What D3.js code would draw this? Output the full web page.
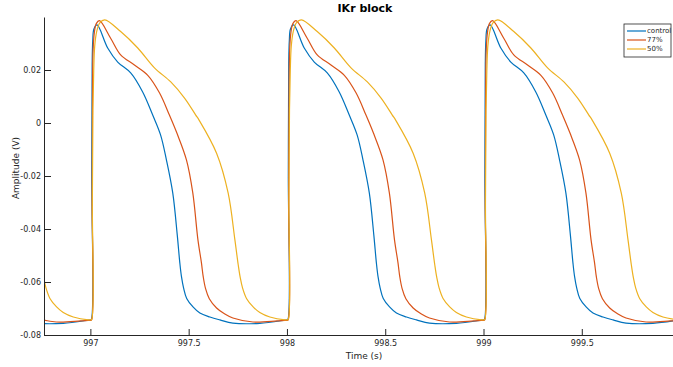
<!DOCTYPE html>
<html>
<head>
<meta charset="utf-8">
<script src="https://cdn.jsdelivr.net/npm/d3@7"></script>
<style>
  body { margin: 0; background: #fff; }
  svg { display: block; font-family: "DejaVu Sans", sans-serif; }
</style>
</head>
<body>
<div id="chart"></div>
<script>
// beat onsets (s) - same waveform repeats every second
var beats = [996, 997, 998, 999];

// control: phase after onset (s) and membrane voltage (V)
var ctrlT = [0.000, 0.005, 0.007, 0.009, 0.012, 0.018, 0.034, 0.088, 0.139, 0.205, 0.266, 0.317, 0.357, 0.387, 0.419, 0.442, 0.455, 0.463, 0.474, 0.490, 0.522, 0.557, 0.608, 0.659, 0.725, 0.862, 0.990];
var ctrlV = [-0.0743, -0.0741, -0.020, 0.022, 0.031, 0.0355, 0.0370, 0.0283, 0.0230, 0.0189, 0.0117, 0.0030, -0.0045, -0.0140, -0.0264, -0.0423, -0.0528, -0.0578, -0.0622, -0.0662, -0.0694, -0.0717, -0.0732, -0.0743, -0.0755, -0.0756, -0.0744];

// 77% IKr
var ikr77T = [0.000, 0.006, 0.009, 0.011, 0.014, 0.020, 0.030, 0.046, 0.103, 0.154, 0.224, 0.292, 0.352, 0.402, 0.440, 0.489, 0.521, 0.547, 0.565, 0.574, 0.586, 0.605, 0.642, 0.684, 0.725, 0.827, 0.949, 0.990];
var ikr77V = [-0.0745, -0.0743, -0.030, 0.015, 0.028, 0.034, 0.0375, 0.0386, 0.0320, 0.0257, 0.0219, 0.0180, 0.0113, 0.0030, -0.0038, -0.0140, -0.0264, -0.0440, -0.0528, -0.0580, -0.0625, -0.0663, -0.0698, -0.0721, -0.0736, -0.0751, -0.0747, -0.0745];

// 50% IKr
var ikr50T = [0.000, 0.006, 0.010, 0.013, 0.017, 0.022, 0.032, 0.048, 0.073, 0.154, 0.241, 0.326, 0.409, 0.479, 0.536, 0.553, 0.642, 0.701, 0.735, 0.752, 0.762, 0.774, 0.795, 0.828, 0.862, 0.913, 0.990];
var ikr50V = [-0.0743, -0.0742, -0.030, 0.005, 0.020, 0.029, 0.0345, 0.0378, 0.0389, 0.0345, 0.0283, 0.0208, 0.0155, 0.0094, 0.0030, 0.0011, -0.0114, -0.0265, -0.0440, -0.0535, -0.0582, -0.0622, -0.0663, -0.0694, -0.0715, -0.0732, -0.0743];

var seriesNames = ['control', '77%', '50%'];
var colors = ['#0072BD', '#D95319', '#EDB120'];

var xTicks = [997, 997.5, 998, 998.5, 999, 999.5];
var xTickLabels = ['997', '997.5', '998', '998.5', '999', '999.5'];
var yTicks = [0.02, 0, -0.02, -0.04, -0.06, -0.08];
var yTickLabels = ['0.02', '0', '-0.02', '-0.04', '-0.06', '-0.08'];

(function () {
  var W = 673, H = 367;
  var left = 44, top = 17, right = 684, bottom = 335;
  var ink = '#262626';

  var svg = d3.select('#chart').append('svg')
    .attr('width', W).attr('height', H);

  var x = d3.scaleLinear().domain([996.764, 1000.02]).range([left, right]);
  var y = d3.scaleLinear().domain([-0.08, 0.04]).range([bottom, top]);

  svg.append('clipPath').attr('id', 'plotclip')
    .append('rect')
    .attr('x', left).attr('y', top)
    .attr('width', right - left).attr('height', bottom - top);

  function tile(ts, vs) {
    var out = [];
    beats.forEach(function (b) {
      ts.forEach(function (t, i) { out.push({ t: b + t, v: vs[i] }); });
    });
    return out;
  }
  var series = [tile(ctrlT, ctrlV), tile(ikr77T, ikr77V), tile(ikr50T, ikr50V)];

  var line = d3.line()
    .curve(d3.curveCatmullRom.alpha(0.5))
    .x(function (d) { return x(d.t); })
    .y(function (d) { return y(d.v); });

  var g = svg.append('g').attr('clip-path', 'url(#plotclip)');
  series.forEach(function (s, i) {
    g.append('path')
      .datum(s)
      .attr('fill', 'none')
      .attr('stroke', colors[i])
      .attr('stroke-width', 1.2)
      .attr('stroke-linejoin', 'round')
      .attr('d', line);
  });

  // axes, MATLAB style (ticks pointing in)
  var xAxis = d3.axisBottom(x)
    .tickValues(xTicks)
    .tickFormat(function (d, i) { return xTickLabels[i]; })
    .tickSizeInner(-6).tickSizeOuter(0).tickPadding(5);
  var xg = svg.append('g')
    .attr('transform', 'translate(0,' + bottom + ')')
    .call(xAxis);

  var yAxis = d3.axisLeft(y)
    .tickValues(yTicks)
    .tickFormat(function (d, i) { return yTickLabels[i]; })
    .tickSizeInner(-7).tickSizeOuter(0).tickPadding(3);
  var yg = svg.append('g')
    .attr('transform', 'translate(' + left + ',0)')
    .call(yAxis);

  [xg, yg].forEach(function (a) {
    a.select('.domain').attr('stroke', ink).attr('stroke-width', 1);
    a.selectAll('.tick line').attr('stroke', ink);
    a.selectAll('.tick text')
      .attr('fill', ink)
      .style('font-size', '8px')
      .style('font-family', '"DejaVu Sans", sans-serif');
  });

  // title + labels
  svg.append('text')
    .attr('x', 365).attr('y', 12)
    .attr('text-anchor', 'middle')
    .style('font-size', '11px')
    .style('font-weight', 'bold')
    .attr('fill', '#000')
    .text('IKr block');

  svg.append('text')
    .attr('x', 364).attr('y', 359)
    .attr('text-anchor', 'middle')
    .style('font-size', '9px')
    .attr('fill', ink)
    .text('Time (s)');

  svg.append('text')
    .attr('transform', 'translate(19,168) rotate(-90)')
    .attr('text-anchor', 'middle')
    .style('font-size', '9px')
    .attr('fill', ink)
    .text('Amplitude (V)');

  // legend
  var lg = svg.append('g').attr('transform', 'translate(624,24)');
  lg.append('rect')
    .attr('width', 47).attr('height', 33)
    .attr('fill', '#fff')
    .attr('stroke', ink).attr('stroke-width', 0.8);
  seriesNames.forEach(function (n, i) {
    var yy = 7 + i * 9;
    lg.append('line')
      .attr('x1', 3).attr('x2', 22)
      .attr('y1', yy).attr('y2', yy)
      .attr('stroke', colors[i]).attr('stroke-width', 1.2);
    lg.append('text')
      .attr('x', 23).attr('y', yy)
      .attr('dy', '0.35em')
      .style('font-size', '7px')
      .attr('fill', ink)
      .text(n);
  });
})();
</script>
</body>
</html>
